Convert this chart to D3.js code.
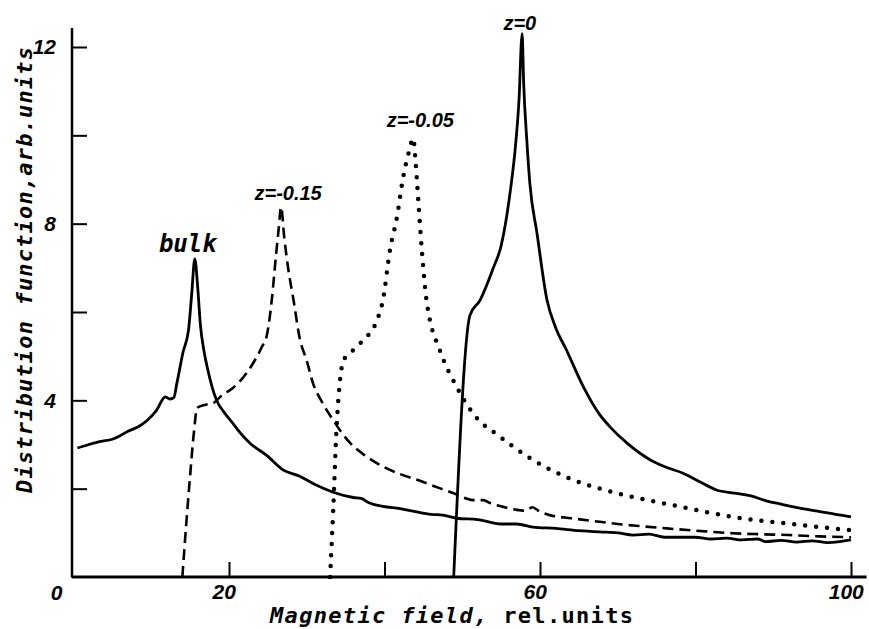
<!DOCTYPE html>
<html lang="en">
<head>
<meta charset="UTF-8">
<title>Distribution function</title>
<script src="https://d3js.org/d3.v7.min.js"></script>
<style>
    body { margin: 0; background: #fff; }
    svg { display: block; }
    .tick text { font-family: "Liberation Sans", Arial, sans-serif; font-weight: bold; font-style: italic; font-size: 21px; fill: #000; }
    .tick line { stroke: #000; stroke-width: 2; }
    .curve { fill: none; stroke: #000; stroke-linejoin: round; }
    .title { font-family: "DejaVu Sans Mono", monospace; font-weight: bold; font-size: 22px; fill: #000; }
    .lbl { font-family: "Liberation Sans", Arial, sans-serif; font-weight: bold; font-style: italic; font-size: 21px; fill: #000; }
</style>
</head>
<body>
<script>
    // tick values and labels
    const xTicks = [20, 40, 60, 80, 100];
    const xTickLabels = {20: "20", 60: "60", 100: "100"};
    const yTicks = [2, 4, 6, 8, 10, 12];
    const yTickLabels = {4: "4", 8: "8", 12: "12"};

    // curves: [field, value]
    const bulk = [[0.5,2.92],[2,3.0],[3.5,3.07],[5,3.12],[6,3.2],[7,3.3],[8.5,3.42],[9.5,3.55],[10.7,3.78],[11.8,4.08],
        [12.4,4.03],[12.9,4.06],[13.3,4.39],[14.1,5.1],[14.8,5.6],[15.2,6.4],[15.6,7.2],[16.0,6.5],[16.3,5.75],[16.8,5.1],
        [17.2,4.75],[18.4,4.0],[19.5,3.7],[20.5,3.48],[21.5,3.25],[22.7,3.03],[24.8,2.76],[27,2.42],[29.1,2.28],[31,2.1],
        [33.4,1.92],[36,1.8],[37,1.78],[38,1.68],[39.8,1.6],[42,1.55],[44,1.48],[46,1.42],[47.5,1.4],[49.3,1.33],
        [52,1.3],[55,1.2],[57,1.2],[59.1,1.13],[62,1.1],[65,1.05],[67.7,1.02],[70,1.0],[72,0.95],[74,0.97],
        [76,0.9],[78,0.9],[80,0.9],[82,0.86],[84,0.88],[86,0.84],[88,0.86],[89,0.8],[91,0.83],[93,0.79],
        [95,0.82],[97,0.78],[98.5,0.8],[100,0.84]];

    const zm015 = [[14,0],[14.5,1.2],[15,2.3],[15.5,3.3],[15.9,3.83],[17,3.9],[18,3.94],[19,4.1],[20.5,4.28],[21.5,4.45],
        [23.1,4.84],[24.2,5.2],[24.9,5.5],[25.5,6.27],[26,7.2],[26.4,7.9],[26.7,8.38],[27.1,7.7],[27.6,7.0],[28.3,6.27],
        [29.1,5.4],[30,4.9],[30.8,4.39],[32,3.95],[33.4,3.55],[35.6,3.03],[37.5,2.75],[39.8,2.5],[42,2.33],[44.2,2.2],
        [46.5,2.05],[48.8,1.9],[50.5,1.78],[51.4,1.74],[52.7,1.74],[53.5,1.68],[55,1.6],[57,1.52],[58.2,1.5],[59,1.58],
        [60,1.48],[61.3,1.4],[64,1.33],[67.7,1.25],[70,1.2],[73,1.15],[76.3,1.1],[80,1.05],[84.8,0.99],[88,0.97],
        [92,0.95],[96,0.92],[100,0.9]];

    const zm005 = [[33,0],[33.4,1.5],[33.8,3.26],[34.2,4.3],[34.7,4.9],[35.6,5.07],[36.6,5.25],[37.7,5.43],[39,5.8],[39.8,6.27],
        [40.7,7.4],[41.6,8.15],[42.4,9.05],[43.1,9.6],[43.7,9.93],[44.0,9.4],[44.2,8.9],[44.8,7.4],[45.4,6.27],[45.6,6.04],
        [47.1,5.14],[49.3,4.3],[51.4,3.7],[54.9,3.17],[59.1,2.65],[63.4,2.26],[67.7,2.0],[72,1.81],[78.4,1.58],[84.8,1.36],
        [91.3,1.22],[100,1.06]];

    const z0 = [[48.9,0],[51,5.93],[52.3,6.27],[54,7.0],[55,7.5],[55.7,8.15],[56.3,8.9],[56.8,9.67],[57.3,10.8],[57.7,12.3],
        [57.9,11.18],[58.3,9.9],[58.7,8.9],[59.6,7.8],[60.9,6.27],[62,5.65],[63.4,5.14],[65.6,4.3],[67.7,3.67],[69,3.4],
        [71.2,3.03],[74.2,2.65],[76,2.5],[78.4,2.35],[80.6,2.15],[82.7,1.97],[85,1.9],[87,1.84],[89.2,1.72],[91,1.65],
        [93.4,1.56],[96,1.48],[98,1.42],[100,1.36]];

    const curveLabels = [
        {text: "bulk", at: [14.7, 7.36], mono: true},
        {text: "z=-0.15", at: [27.6, 8.54]},
        {text: "z=-0.05", at: [44.6, 10.19]},
        {text: "z=0", at: [57.4, 12.38]}
    ];

    const width = 869, height = 629;

    const svg = d3.select("body").append("svg")
        .attr("width", width)
        .attr("height", height);

    const x = d3.scaleLinear().domain([0, 100]).range([73.5, 851]);
    const y = d3.scaleLinear().domain([0, 12]).range([577, 47]);

    // axes (ticks point inward)
    const xAxis = svg.append("g")
        .attr("transform", `translate(0,${y(0)})`)
        .call(d3.axisBottom(x).tickValues(xTicks).tickSize(-15).tickPadding(4)
            .tickFormat(d => xTickLabels[d] || ""));
    xAxis.select(".domain").remove();
    xAxis.selectAll(".tick text").attr("dy", "0.85em").attr("dx", "-0.25em");

    const yAxis = svg.append("g")
        .attr("transform", `translate(${x(0) - 1.5},0)`)
        .call(d3.axisLeft(y).tickValues(yTicks).tickSize(-15).tickPadding(16)
            .tickFormat(d => yTickLabels[d] || ""));
    yAxis.select(".domain").remove();

    svg.append("line")
        .attr("x1", x(0) - 2).attr("x2", x(102))
        .attr("y1", y(0)).attr("y2", y(0))
        .attr("stroke", "#000").attr("stroke-width", 3);
    svg.append("line")
        .attr("x1", x(0) - 1.5).attr("x2", x(0) - 1.5)
        .attr("y1", y(0)).attr("y2", y(12.43))
        .attr("stroke", "#000").attr("stroke-width", 2.5);

    svg.append("text")
        .attr("class", "lbl")
        .attr("x", x(0) - 17).attr("y", y(0) + 23)
        .attr("text-anchor", "middle")
        .text("0");

    // curves
    const line = d3.line().curve(d3.curveMonotoneX).x(d => x(d[0])).y(d => y(d[1]));

    svg.append("path").datum(bulk).attr("class", "curve")
        .attr("stroke-width", 2.8).attr("d", line);
    svg.append("path").datum(zm015).attr("class", "curve")
        .attr("stroke-width", 2.6).attr("stroke-dasharray", "11,6").attr("d", line);
    svg.append("path").datum(zm005).attr("class", "curve")
        .attr("stroke-width", 4.5).attr("stroke-linecap", "round")
        .attr("stroke-dasharray", "0,11").attr("d", line);
    svg.append("path").datum(z0).attr("class", "curve")
        .attr("stroke-width", 2.8).attr("d", line);

    svg.selectAll("text.curve-label")
        .data(curveLabels)
        .enter().append("text")
        .attr("class", d => d.mono ? "title" : "lbl")
        .attr("x", d => x(d.at[0]))
        .attr("y", d => y(d.at[1]))
        .attr("text-anchor", "middle")
        .style("font-style", "italic")
        .style("font-size", d => d.mono ? "24px" : "20px")
        .text(d => d.text);

    // axis titles
    const xt = svg.append("text")
        .attr("class", "title")
        .attr("x", 270).attr("y", 623)
        .attr("textLength", 363).attr("lengthAdjust", "spacing");
    xt.append("tspan").style("font-style", "italic").text("Magnetic field, ");
    xt.append("tspan").text("rel.units");

    svg.append("text")
        .attr("class", "title")
        .attr("transform", "translate(32,493) rotate(-90)")
        .attr("textLength", 446).attr("lengthAdjust", "spacing")
        .style("font-style", "italic")
        .text("Distribution function,arb.units");
</script>
</body>
</html>
